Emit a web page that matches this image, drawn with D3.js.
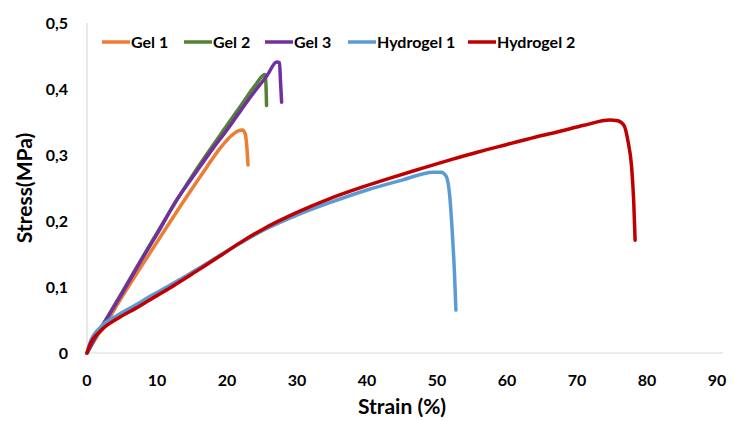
<!DOCTYPE html>
<html>
<head>
<meta charset="utf-8">
<script src="https://cdn.jsdelivr.net/npm/d3@7"></script>
<style>
  body { margin: 0; background: #fff; }
  text { font-family: "Lato", "Open Sans", sans-serif; font-weight: bold; fill: #000; }
</style>
</head>
<body>
<svg id="chart" width="734" height="421"></svg>
<script>
// series names and colours (legend order)
const seriesNames = ["Gel 1", "Gel 2", "Gel 3", "Hydrogel 1", "Hydrogel 2"];
const seriesColors = ["#ED7D31", "#548235", "#7030A0", "#5B9BD5", "#C00000"];

// [strain %, stress MPa]
const gel1 = [[0,0],[1,0.018],[3,0.05],[5,0.085],[10,0.168],[13.5,0.225],[17,0.28],[19,0.31],[20.5,0.328],[21.5,0.336],[22.2,0.338],[22.6,0.332],[22.85,0.31],[23,0.285]];
const gel2 = [[0,0],[1,0.02],[3,0.056],[5,0.092],[10,0.182],[15,0.268],[20,0.345],[22,0.375],[24,0.405],[25.4,0.422],[25.55,0.41],[25.65,0.375]];
const gel3 = [[0,0],[1,0.02],[3,0.055],[5,0.09],[8,0.145],[10,0.18],[12.8,0.232],[15,0.265],[18,0.31],[20,0.338],[22,0.368],[24,0.397],[25.7,0.42],[27.1,0.441],[27.5,0.44],[27.65,0.41],[27.8,0.38]];
const hydrogel1 = [[0,0],[0.4,0.015],[2,0.04],[4.5,0.058],[7,0.073],[9.2,0.087],[11.6,0.101],[14,0.116],[16.4,0.131],[19,0.148],[22,0.167],[25.2,0.186],[30,0.209],[35,0.229],[40,0.247],[45,0.262],[49.5,0.274],[50.6,0.274],[51.3,0.268],[51.8,0.24],[52.2,0.18],[52.5,0.12],[52.7,0.065]];
const hydrogel2 = [[0,0],[0.4,0.012],[2,0.034],[4.5,0.053],[7,0.068],[9.2,0.082],[11.6,0.097],[14,0.113],[16.4,0.129],[19,0.147],[22,0.168],[25.2,0.188],[30,0.213],[34.7,0.234],[39.5,0.252],[43.3,0.265],[47.6,0.279],[52,0.293],[56,0.305],[60,0.316],[64,0.327],[67.6,0.336],[71,0.345],[74.7,0.353],[75.8,0.352],[76.7,0.345],[77.3,0.32],[77.8,0.282],[78.1,0.23],[78.3,0.171]];
const allSeries = [gel1, gel2, gel3, hydrogel1, hydrogel2];

const xTicks = [0, 10, 20, 30, 40, 50, 60, 70, 80, 90];
const yTicks = [0, 0.1, 0.2, 0.3, 0.4, 0.5];

const svg = d3.select("#chart");
const margin = { left: 87, right: 17, top: 23, bottom: 68 };
const W = 734, H = 421;

const x = d3.scaleLinear().domain([0, 90]).range([margin.left, W - margin.right]);
const y = d3.scaleLinear().domain([0, 0.5]).range([H - margin.bottom, margin.top]);

// axis lines only, light grey
svg.append("line")
  .attr("x1", x(0)).attr("x2", x(90) + 6)
  .attr("y1", y(0)).attr("y2", y(0))
  .attr("stroke", "#d9d9d9").attr("stroke-width", 1.2);
svg.append("line")
  .attr("x1", x(0)).attr("x2", x(0))
  .attr("y1", y(0)).attr("y2", y(0.5))
  .attr("stroke", "#d9d9d9").attr("stroke-width", 1.2);

const fmtY = d => d === 0 ? "0" : d3.format(".1f")(d).replace(".", ",");

svg.append("g").selectAll("text")
  .data(yTicks)
  .join("text")
  .attr("x", x(0) - 19)
  .attr("y", d => y(d))
  .attr("dy", "0.35em")
  .attr("text-anchor", "end")
  .style("font-size", "16px")
  .text(fmtY);

svg.append("g").selectAll("text")
  .data(xTicks)
  .join("text")
  .attr("x", d => x(d))
  .attr("y", y(0) + 27)
  .attr("dy", "0.35em")
  .attr("text-anchor", "middle")
  .style("font-size", "16px")
  .text(d => d);

// axis titles
svg.append("text")
  .attr("x", (x(0) + x(90)) / 2)
  .attr("y", 407)
  .attr("dy", "0.35em")
  .attr("text-anchor", "middle")
  .style("font-size", "21px")
  .text("Strain (%)");

svg.append("text")
  .attr("transform", `translate(25,${(y(0) + y(0.5)) / 2}) rotate(-90)`)
  .attr("dy", "0.35em")
  .attr("text-anchor", "middle")
  .style("font-size", "21px")
  .text("Stress(MPa)");

// curves
const line = d3.line()
  .x(d => x(d[0]))
  .y(d => y(d[1]))
  .curve(d3.curveMonotoneX);

svg.append("g").selectAll("path")
  .data(allSeries)
  .join("path")
  .attr("d", line)
  .attr("fill", "none")
  .attr("stroke", (d, i) => seriesColors[i])
  .attr("stroke-width", 3.5)
  .attr("stroke-linejoin", "round")
  .attr("stroke-linecap", "round");

// legend
const legendX = [102, 184, 265, 348, 468];
const legend = svg.append("g").selectAll("g")
  .data(seriesNames)
  .join("g")
  .attr("transform", (d, i) => `translate(${legendX[i]},42)`);

legend.append("line")
  .attr("x1", 0).attr("x2", 28)
  .attr("stroke", (d, i) => seriesColors[i])
  .attr("stroke-width", 3.5);

legend.append("text")
  .attr("x", 29)
  .attr("dy", "0.35em")
  .style("font-size", "16px")
  .text(d => d);
</script>
</body>
</html>
